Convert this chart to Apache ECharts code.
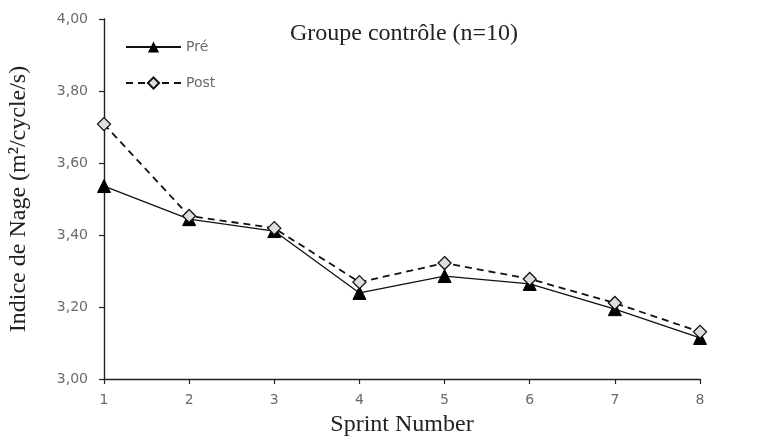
<!DOCTYPE html>
<html><head><meta charset="utf-8">
<script src="https://cdn.jsdelivr.net/npm/echarts@6/dist/echarts.min.js"></script>
<style>html,body{margin:0;padding:0;background:#fff}#c{width:761px;height:438px}</style>
</head><body><div id="c"></div>
<script>
const categories = ['1','2','3','4','5','6','7','8'];
const pre = [3.536, 3.444, 3.411, 3.239, 3.286, 3.264, 3.194, 3.114];
const post = [3.708, 3.453, 3.419, 3.269, 3.322, 3.278, 3.211, 3.131];
const titleText = 'Groupe contrôle (n=10)';

const chart = echarts.init(document.getElementById('c'));
chart.setOption({
  animation: false,
  backgroundColor: '#fff',
  title: {
    text: titleText, left: 399, top: 17, textAlign: 'center',
    textStyle: {fontFamily: 'Liberation Serif', fontSize: 24, fontWeight: 'normal', color: '#222'}
  },
  legend: {
    orient: 'vertical', left: 120, top: 35, itemGap: 22, itemWidth: 55, itemHeight: 14,
    textStyle: {fontFamily: 'DejaVu Sans', fontSize: 14, color: '#6a6a6a'},
    data: ['Pré', 'Post']
  },
  grid: {left: 104, right: 61, top: 19, bottom: 59, containLabel: false, outerBoundsMode: 'none'},
  xAxis: {
    type: 'category', data: categories, boundaryGap: false,
    name: 'Sprint Number', nameLocation: 'middle', nameGap: 34,
    nameTextStyle: {fontFamily: 'Liberation Serif', fontSize: 24, color: '#222'},
    axisLine: {lineStyle: {color: '#222', width: 1.4}},
    axisTick: {show: true, length: 5, alignWithLabel: true, lineStyle: {color: '#222', width: 1.2}},
    axisLabel: {fontFamily: 'DejaVu Sans', fontSize: 14, color: '#6a6a6a', margin: 14},
    splitLine: {show: false}
  },
  yAxis: {
    type: 'value', min: 3.0, max: 4.0, interval: 0.2,
    name: 'Indice de Nage (m²/cycle/s)', nameLocation: 'middle', nameGap: 73, nameRotate: 90,
    nameTextStyle: {fontFamily: 'Liberation Serif', fontSize: 24, color: '#222'},
    axisLine: {show: true, lineStyle: {color: '#222', width: 1.4}},
    axisTick: {show: true, length: 5, lineStyle: {color: '#222', width: 1.2}},
    axisLabel: {fontFamily: 'DejaVu Sans', fontSize: 14, color: '#6a6a6a', margin: 16,
      formatter: v => v.toFixed(2).replace('.', ',')},
    splitLine: {show: false}
  },
  series: [
    {
      name: 'Pré', type: 'line', data: pre,
      symbol: 'triangle', symbolSize: 13,
      itemStyle: {color: '#000', borderColor: '#000'},
      lineStyle: {color: '#111', width: 1.3, type: 'solid'},
      z: 2
    },
    {
      name: 'Post', type: 'line', data: post,
      symbol: 'diamond', symbolSize: 13,
      itemStyle: {color: '#dedede', borderColor: '#111', borderWidth: 1.3},
      lineStyle: {color: '#111', width: 1.8, type: [7, 5]},
      z: 3
    }
  ]
});
</script>
</body></html>
